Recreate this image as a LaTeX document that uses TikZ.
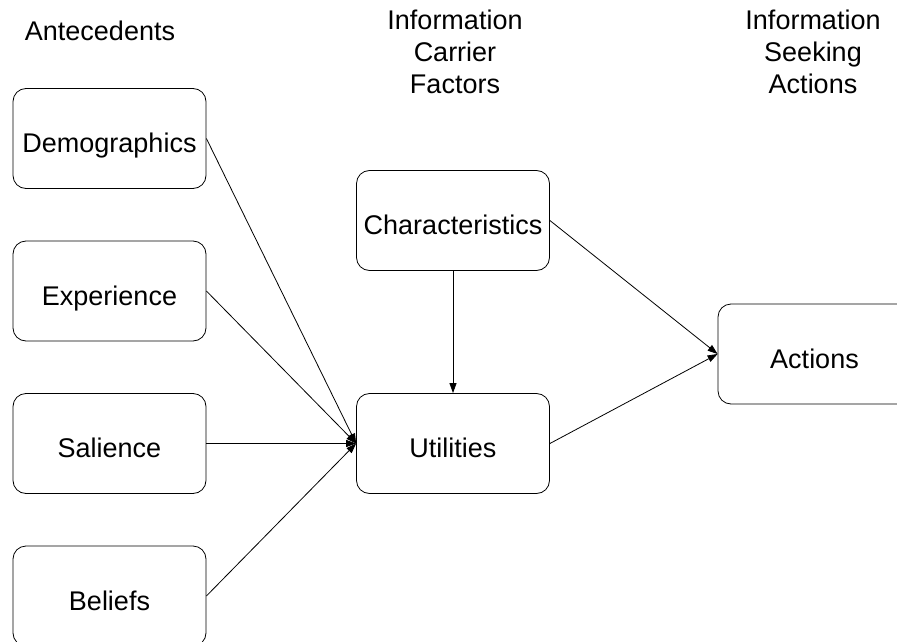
\documentclass[tikz,border=0pt]{standalone}
\usepackage{fontspec}
\setmainfont{Liberation Sans}
\usetikzlibrary{positioning,arrows.meta}
\begin{document}
\begin{tikzpicture}[-{Triangle[length=10pt,width=7pt]},line width=0.8pt,node distance=152.5pt,
    main node/.style={draw,rounded corners=13pt,minimum width=193pt,minimum height=100pt,
      text height=28pt,text depth=0pt,font=\fontsize{27}{31}\selectfont},
    head node/.style={align=center,font=\fontsize{27}{32}\selectfont}]
    \useasboundingbox (0,0) rectangle (897pt,-642pt);
    \node[head node] (h1) at (100pt,-31pt) {Antecedents};
    \node[head node] (h2) at (455pt,-52pt) {Information\\Carrier\\Factors};
    \node[head node] (h3) at (813pt,-52pt) {Information\\Seeking\\Actions};
    \node[main node] (1) at (109.5pt,-138.5pt) {Demographics};
    \node[main node] (2) [below of=1] {Experience};
    \node[main node] (3) [below of=2] {Salience};
    \node[main node] (4) [below of=3] {Beliefs};
    \node[main node] (5) at (453pt,-443.5pt) {Utilities};
    \node[main node] (6) [above of=5, node distance=223pt] {Characteristics};
    \node[main node] (7) at (814.5pt,-354pt) {Actions};
    \path (1.east) edge (5.west)
          (2.east) edge (5.west)
          (3.east) edge (5.west)
          (4.east) edge (5.west)
          (6.south) edge (5.north)
          (6.east) edge (7.west)
          (5.east) edge (7.west);
\end{tikzpicture}
\end{document}
